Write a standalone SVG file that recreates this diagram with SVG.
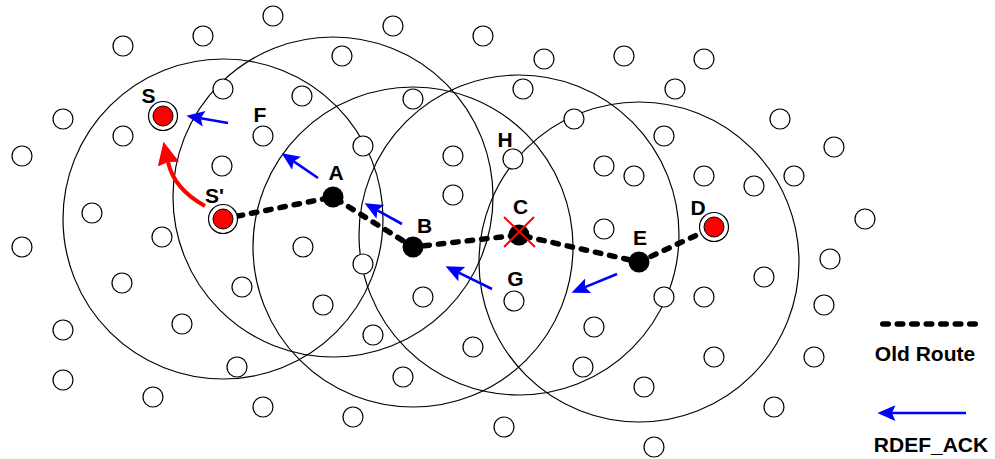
<svg xmlns="http://www.w3.org/2000/svg" width="995" height="459" viewBox="0 0 995 459">
<style>
.rng{fill:none;stroke:#000;stroke-width:1.2}
.nd{fill:#fff;stroke:#000;stroke-width:1.2}
.ring{fill:#fff;stroke:#000;stroke-width:1.2}
.red{fill:#ff0000;stroke:#000;stroke-width:1}
.blk{fill:#000}
.route{fill:none;stroke:#000;stroke-width:5.5;stroke-linecap:round;stroke-linejoin:round;stroke-dasharray:5.5 9}
.ack{fill:none;stroke:#0000ff;stroke-width:2.6;marker-end:url(#ba)}
.lbl{font-family:"Liberation Sans",Arial,sans-serif;font-weight:bold;font-size:21px;fill:#000}
</style>
<defs>
<marker id="ba" markerUnits="userSpaceOnUse" markerWidth="20" markerHeight="18" viewBox="0 -8 17 16" refX="3" refY="0" orient="auto">
<path d="M0,-7 L16,0 L0,7 L3,0 z" fill="#0000ff"/>
</marker>
<marker id="ra" markerUnits="userSpaceOnUse" markerWidth="24" markerHeight="24" viewBox="0 -11 22 22" refX="2" refY="0" orient="auto">
<path d="M0,-10 L21,0 L0,10 L2,0 z" fill="#ff0000"/>
</marker>
</defs>
<g id="ranges">
<circle class="rng" cx="223" cy="219" r="160"/>
<circle class="rng" cx="333" cy="197" r="160"/>
<circle class="rng" cx="413" cy="247" r="160"/>
<circle class="rng" cx="519" cy="235" r="160"/>
<circle class="rng" cx="639" cy="262" r="160"/>
</g>
<g id="nodes-other">
<g id="n01"><circle class="nd" cx="273" cy="16" r="10"/></g>
<g id="n02"><circle class="nd" cx="203" cy="36" r="10"/></g>
<g id="n03"><circle class="nd" cx="123" cy="46" r="10"/></g>
<g id="n04"><circle class="nd" cx="393" cy="26" r="10"/></g>
<g id="n05"><circle class="nd" cx="483" cy="36" r="10"/></g>
<g id="n06"><circle class="nd" cx="342" cy="56" r="10"/></g>
<g id="n07"><circle class="nd" cx="544" cy="59" r="10"/></g>
<g id="n08"><circle class="nd" cx="624" cy="56" r="10"/></g>
<g id="n09"><circle class="nd" cx="704" cy="59" r="10"/></g>
<g id="n10"><circle class="nd" cx="223" cy="89" r="10"/></g>
<g id="n11"><circle class="nd" cx="302" cy="96" r="10"/></g>
<g id="n12"><circle class="nd" cx="413" cy="99" r="10"/></g>
<g id="n13"><circle class="nd" cx="523" cy="89" r="10"/></g>
<g id="n14"><circle class="nd" cx="675" cy="89" r="10"/></g>
<g id="n15"><circle class="nd" cx="63" cy="119" r="10"/></g>
<g id="n16"><circle class="nd" cx="123" cy="136" r="10"/></g>
<g id="n17"><circle class="nd" cx="263" cy="136" r="10"/></g>
<g id="n18"><circle class="nd" cx="363" cy="146" r="10"/></g>
<g id="n19"><circle class="nd" cx="574" cy="119" r="10"/></g>
<g id="n20"><circle class="nd" cx="664" cy="136" r="10"/></g>
<g id="n21"><circle class="nd" cx="780" cy="119" r="10"/></g>
<g id="n22"><circle class="nd" cx="834" cy="147" r="10"/></g>
<g id="n23"><circle class="nd" cx="22" cy="156" r="10"/></g>
<g id="n24"><circle class="nd" cx="453" cy="156" r="10"/></g>
<g id="n25"><circle class="nd" cx="513" cy="159" r="10"/></g>
<g id="n26"><circle class="nd" cx="222" cy="166" r="10"/></g>
<g id="n27"><circle class="nd" cx="604" cy="166" r="10"/></g>
<g id="n28"><circle class="nd" cx="634" cy="176" r="10"/></g>
<g id="n29"><circle class="nd" cx="704" cy="176" r="10"/></g>
<g id="n30"><circle class="nd" cx="794" cy="176" r="10"/></g>
<g id="n31"><circle class="nd" cx="754" cy="186" r="10"/></g>
<g id="n32"><circle class="nd" cx="453" cy="195" r="10"/></g>
<g id="n33"><circle class="nd" cx="92" cy="213" r="10"/></g>
<g id="n34"><circle class="nd" cx="865" cy="219" r="10"/></g>
<g id="n35"><circle class="nd" cx="162" cy="237" r="10"/></g>
<g id="n36"><circle class="nd" cx="22" cy="247" r="10"/></g>
<g id="n37"><circle class="nd" cx="604" cy="229" r="10"/></g>
<g id="n38"><circle class="nd" cx="303" cy="247" r="10"/></g>
<g id="n39"><circle class="nd" cx="830" cy="259" r="10"/></g>
<g id="n40"><circle class="nd" cx="363" cy="264" r="10"/></g>
<g id="n41"><circle class="nd" cx="764" cy="277" r="10"/></g>
<g id="n42"><circle class="nd" cx="122" cy="283" r="10"/></g>
<g id="n43"><circle class="nd" cx="242" cy="287" r="10"/></g>
<g id="n44"><circle class="nd" cx="423" cy="297" r="10"/></g>
<g id="n45"><circle class="nd" cx="514" cy="301" r="10"/></g>
<g id="n46"><circle class="nd" cx="664" cy="297" r="10"/></g>
<g id="n47"><circle class="nd" cx="704" cy="297" r="10"/></g>
<g id="n48"><circle class="nd" cx="323" cy="305" r="10"/></g>
<g id="n49"><circle class="nd" cx="824" cy="305" r="10"/></g>
<g id="n50"><circle class="nd" cx="594" cy="327" r="10"/></g>
<g id="n51"><circle class="nd" cx="63" cy="330" r="10"/></g>
<g id="n52"><circle class="nd" cx="182" cy="324" r="10"/></g>
<g id="n53"><circle class="nd" cx="373" cy="335" r="10"/></g>
<g id="n54"><circle class="nd" cx="473" cy="347" r="10"/></g>
<g id="n55"><circle class="nd" cx="714" cy="357" r="10"/></g>
<g id="n56"><circle class="nd" cx="814" cy="357" r="10"/></g>
<g id="n57"><circle class="nd" cx="237" cy="367" r="10"/></g>
<g id="n58"><circle class="nd" cx="583" cy="367" r="10"/></g>
<g id="n59"><circle class="nd" cx="63" cy="380" r="10"/></g>
<g id="n60"><circle class="nd" cx="403" cy="377" r="10"/></g>
<g id="n61"><circle class="nd" cx="644" cy="387" r="10"/></g>
<g id="n62"><circle class="nd" cx="153" cy="397" r="10"/></g>
<g id="n63"><circle class="nd" cx="263" cy="407" r="10"/></g>
<g id="n64"><circle class="nd" cx="353" cy="417" r="10"/></g>
<g id="n65"><circle class="nd" cx="504" cy="427" r="10"/></g>
<g id="n66"><circle class="nd" cx="774" cy="407" r="10"/></g>
<g id="n67"><circle class="nd" cx="654" cy="447" r="10"/></g>
</g>
<g id="connectors">
<polyline class="route" points="223,219 333,197 413,247 519,235 639,262 714,227"/>
<path class="ack" d="M228,123 L200.8,118.2"/>
<path class="ack" d="M318,178 L293.7,161.4"/>
<path class="ack" d="M402,224 L377.4,210.3"/>
<path class="ack" d="M492,289 L458.7,272.7"/>
<path class="ack" d="M617,274 L585,287.1"/>
<path d="M205,206 C185,195 172,180 168,162" fill="none" stroke="#ff0000" stroke-width="4" marker-end="url(#ra)"/>
</g>
<g id="node-S"><circle class="ring" cx="163" cy="116" r="14.5"/><circle class="red" cx="163" cy="116" r="10"/><text class="lbl" x="148.5" y="103" text-anchor="middle">S</text></g>
<g id="node-Sp"><circle class="ring" cx="223" cy="219" r="14.5"/><circle class="red" cx="223" cy="219" r="10"/><text class="lbl" x="205" y="203">S'</text></g>
<g id="node-D"><circle class="ring" cx="714" cy="227" r="14.5"/><circle class="red" cx="714" cy="227" r="10"/><text class="lbl" x="698" y="215" text-anchor="middle">D</text></g>
<g id="node-A"><circle class="blk" cx="333" cy="197" r="10.5"/><text class="lbl" x="336" y="180" text-anchor="middle">A</text></g>
<g id="node-B"><circle class="blk" cx="413" cy="247" r="10.5"/><text class="lbl" x="424.5" y="233" text-anchor="middle">B</text></g>
<g id="node-C"><circle class="blk" cx="519" cy="235" r="10.5"/><path d="M504,217 L535,247 M534,217 L504,247" stroke="#ff0000" stroke-width="2" fill="none"/><text class="lbl" x="520.5" y="214" text-anchor="middle">C</text></g>
<g id="node-E"><circle class="blk" cx="639" cy="262" r="10.5"/><text class="lbl" x="640" y="245" text-anchor="middle">E</text></g>
<g id="label-F"><text class="lbl" x="260" y="122" text-anchor="middle">F</text></g>
<g id="label-H"><text class="lbl" x="505" y="147" text-anchor="middle">H</text></g>
<g id="label-G"><text class="lbl" x="515.5" y="286" text-anchor="middle">G</text></g>
<g id="legend">
<line class="route" x1="882.75" y1="324" x2="975.25" y2="324"/>
<text class="lbl" x="925" y="361" text-anchor="middle">Old Route</text>
<path class="ack" d="M966,413 L892,413"/>
<text class="lbl" x="931" y="452" text-anchor="middle">RDEF_ACK</text>
</g>
</svg>
